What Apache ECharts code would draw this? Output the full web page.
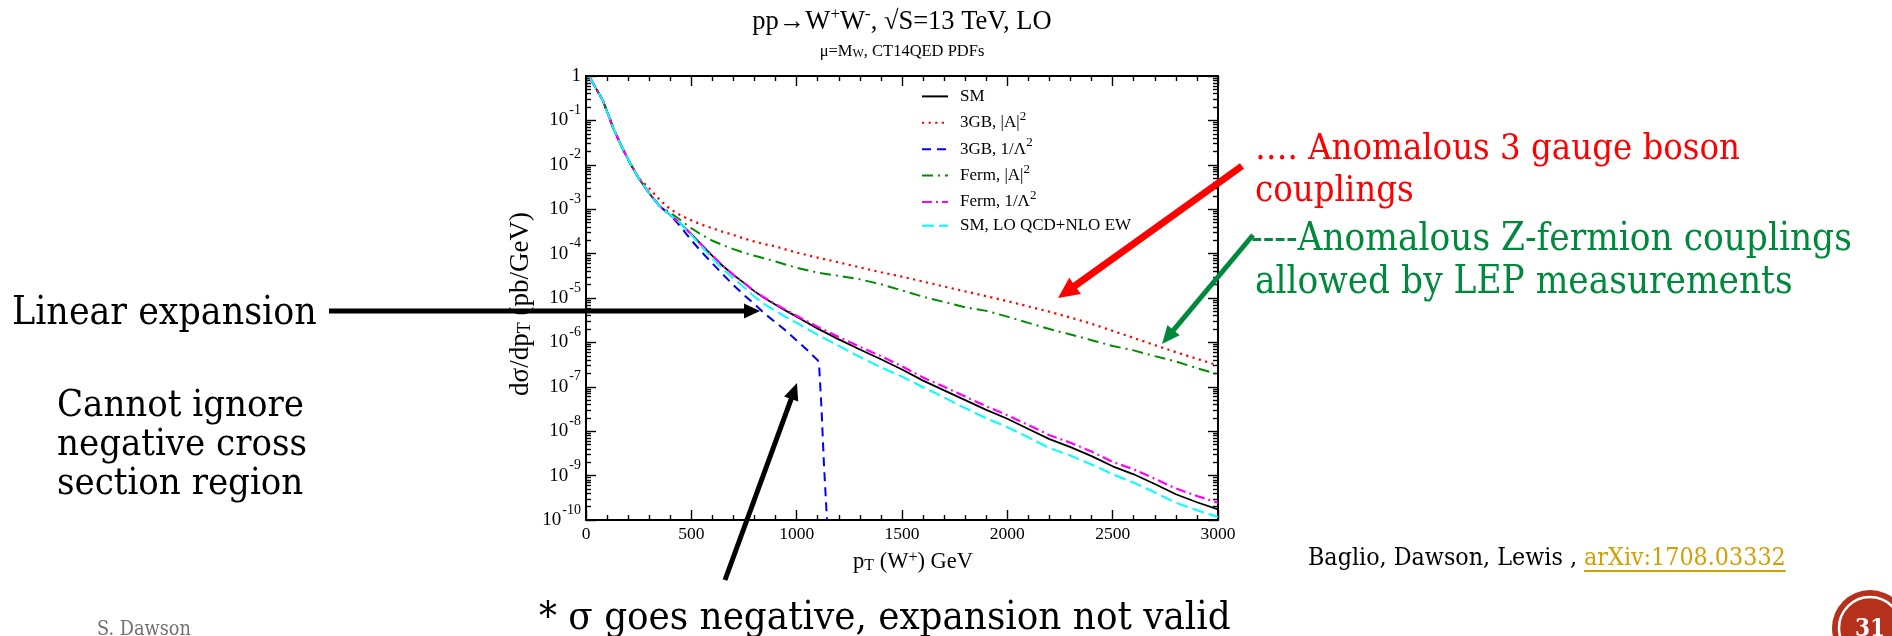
<!DOCTYPE html>
<html><head><meta charset="utf-8">
<script src="https://cdn.jsdelivr.net/npm/echarts@6/dist/echarts.min.js"></script>
<style>html,body{margin:0;padding:0;background:#fff;}#c{width:1892px;height:636px;}</style>
</head><body><div id="c"></div>
<script>
// ---------------- data ----------------
const pT = [20,50,80,100,130,170,210,250,300,350,400,450,500,550,600,650,700,750,800,850,900,950,1000,1100,1200,1300,1400,1500,1600,1700,1800,1900,2000,2100,2200,2300,2400,2500,2600,2700,2800,2900,3000];
const smVals = [0.891,0.501,0.282,0.158,0.0661,0.0251,0.0107,5.01e-3,2.29e-3,1.17e-3,7.41e-4,4.68e-4,2.75e-4,1.55e-4,8.91e-5,5.25e-5,3.31e-5,2.19e-5,1.41e-5,9.77e-6,7.08e-6,5.13e-6,3.80e-6,2.04e-6,1.17e-6,6.92e-7,4.17e-7,2.45e-7,1.38e-7,8.32e-8,5.01e-8,3.02e-8,1.91e-8,1.12e-8,6.61e-9,4.37e-9,2.75e-9,1.62e-9,1.07e-9,6.46e-10,3.80e-10,2.51e-10,1.74e-10];
const gb3SqVals = [0.891,0.501,0.282,0.158,0.0661,0.0251,0.0107,5.01e-3,2.95e-3,1.62e-3,1.00e-3,7.24e-4,5.62e-4,4.47e-4,3.72e-4,3.09e-4,2.63e-4,2.19e-4,1.86e-4,1.62e-4,1.45e-4,1.23e-4,1.05e-4,8.13e-5,6.31e-5,4.90e-5,3.80e-5,3.02e-5,2.34e-5,1.82e-5,1.41e-5,1.10e-5,8.51e-6,6.46e-6,4.90e-6,3.63e-6,2.63e-6,1.82e-6,1.26e-6,8.71e-7,6.03e-7,4.27e-7,3.02e-7];
const fermSqVals = [0.891,0.501,0.282,0.158,0.0661,0.0251,0.0107,5.01e-3,2.29e-3,1.17e-3,8.32e-4,5.62e-4,3.72e-4,2.63e-4,1.95e-4,1.55e-4,1.26e-4,1.05e-4,8.91e-5,7.76e-5,6.61e-5,5.62e-5,4.79e-5,3.72e-5,3.16e-5,2.63e-5,2.04e-5,1.48e-5,1.07e-5,8.13e-6,6.17e-6,5.13e-6,3.80e-6,2.75e-6,2.00e-6,1.51e-6,1.12e-6,8.32e-7,6.61e-7,4.90e-7,3.72e-7,2.63e-7,1.91e-7];
const fermLinVals = [0.891,0.501,0.282,0.158,0.0661,0.0251,0.0107,5.01e-3,2.29e-3,1.17e-3,7.41e-4,4.68e-4,2.75e-4,1.55e-4,8.91e-5,5.25e-5,3.31e-5,2.19e-5,1.41e-5,1.00e-5,7.24e-6,5.37e-6,3.98e-6,2.24e-6,1.32e-6,7.94e-7,4.90e-7,2.88e-7,1.62e-7,1.00e-7,6.03e-8,3.63e-8,2.29e-8,1.38e-8,8.13e-9,5.50e-9,3.47e-9,2.04e-9,1.38e-9,8.51e-10,5.13e-10,3.47e-10,2.45e-10];
const smEwVals = [0.891,0.501,0.282,0.158,0.0661,0.0251,0.0107,5.01e-3,2.29e-3,1.17e-3,7.41e-4,4.68e-4,2.63e-4,1.41e-4,7.94e-5,4.47e-5,2.75e-5,1.74e-5,1.07e-5,7.08e-6,5.13e-6,3.72e-6,2.75e-6,1.48e-6,8.32e-7,4.68e-7,2.75e-7,1.70e-7,9.77e-8,5.75e-8,3.31e-8,1.95e-8,1.23e-8,7.24e-9,4.17e-9,2.82e-9,1.78e-9,1.07e-9,6.92e-10,4.17e-10,2.45e-10,1.66e-10,1.17e-10];
const pTBlue = [20,50,80,100,130,170,210,250,300,350,400,450,500,550,600,650,700,750,800,850,900,950,1000,1050,1075,1100,1106,1118,1130,1144];
const gb3LinVals = [0.891,0.501,0.282,0.158,0.0661,0.0251,0.0107,5.01e-3,2.29e-3,1.17e-3,7.41e-4,3.98e-4,2.00e-4,1.07e-4,6.03e-5,3.39e-5,1.95e-5,1.17e-5,7.24e-6,4.37e-6,2.82e-6,1.82e-6,1.10e-6,6.76e-7,5.13e-7,3.98e-7,3.39e-7,3.16e-8,1.58e-9,1.0e-10];
const seriesNames = ['SM','3GB, |A|^2','3GB, 1/Λ^2','Ferm, |A|^2','Ferm, 1/Λ^2','SM, LO QCD+NLO EW'];
const yTickValues = [1e-10,1e-9,1e-8,1e-7,1e-6,1e-5,1e-4,1e-3,1e-2,1e-1,1];
const xTickStep = 500;

// ---------------- helpers ----------------
const yMinorValues = [];
for (let e = -10; e < 0; e++) for (let k = 2; k <= 9; k++) yMinorValues.push(k * Math.pow(10, e));
const pairs = (xs, ys) => xs.map((x, i) => [x, ys[i]]);
const SERIF = 'Liberation Serif';
const SLAB = '"DejaVu Serif Condensed", "DejaVu Serif", serif';
const mctx = document.createElement('canvas').getContext('2d');
function fit(text, target) { mctx.font = '100px ' + SLAB; return 100 * target / mctx.measureText(text).width; }
function textW(text, size) { mctx.font = size + 'px ' + SLAB; return mctx.measureText(text).width; }

function arrow(x1, y1, x2, y2, w, hl, hw, color) {
  const dx = x2 - x1, dy = y2 - y1, L = Math.hypot(dx, dy);
  const ux = dx / L, uy = dy / L, nx = -uy, ny = ux;
  const bx = x2 - ux * hl, by = y2 - uy * hl;
  return [
    { type: 'line', z: 100, shape: { x1: x1, y1: y1, x2: bx + ux * 2, y2: by + uy * 2 }, style: { stroke: color, lineWidth: w } },
    { type: 'polygon', z: 100, shape: { points: [[x2, y2], [bx + nx * hw / 2, by + ny * hw / 2], [bx - nx * hw / 2, by - ny * hw / 2]] }, style: { fill: color } }
  ];
}
function txt(x, y, text, size, color, extra) {
  return Object.assign({ type: 'text', z: 100, x: x, y: y, style: { text: text, font: size.toFixed(2) + 'px ' + SLAB, fill: color, align: 'left', textAlign: 'left', verticalAlign: 'middle', textVerticalAlign: 'middle' } }, extra || {});
}

// ---------------- axes ----------------
const tickLine = { color: '#000', width: 1.4 };
const frameLine = { show: true, lineStyle: { color: '#000', width: 2 } };
const xBase = { type: 'value', min: 0, max: 3000, interval: xTickStep, splitLine: { show: false },
  axisTick: { show: true, inside: true, length: 10, lineStyle: tickLine },
  minorTick: { show: true, splitNumber: 5, length: 5, lineStyle: tickLine }, axisLine: frameLine };
const yBase = { type: 'log', logBase: 10, min: 1e-10, max: 1, splitLine: { show: false }, minorTick: { show: false } };
const yLabel = v => { const e = Math.round(Math.log10(v)); return e === 0 ? '{b|1}' : '{b|10}{s|' + e + '}'; };

const legendRich = {
  b: { fontFamily: SERIF, fontSize: 17, color: '#000', lineHeight: 26 },
  s: { fontFamily: SERIF, fontSize: 13, color: '#000', lineHeight: 13, verticalAlign: 'top' }
};
const legendFmt = name => { const p = name.split('^'); return p.length > 1 ? '{b|' + p[0] + '}{s|' + p[1] + '}' : '{b|' + p[0] + '}'; };

const lineSeries = (name, xs, ys, color, type, width) => ({
  name: name, type: 'line', data: pairs(xs, ys), showSymbol: false, symbol: 'none', smooth: false,
  lineStyle: { color: color, width: width, type: type, cap: 'butt' }, itemStyle: { color: color }, emphasis: { disabled: true }
});

// ---------------- annotation text sizes ----------------
const sLin = fit('Linear expansion', 305);
const sCan = fit('negative cross', 250);
const sRed = fit('…. Anomalous 3 gauge boson', 485);
const sGrn = fit('----Anomalous Z-fermion couplings', 601);
const sSig = fit('* σ goes negative, expansion not valid', 692);
const sRef = fit('Baglio, Dawson, Lewis , arXiv:1708.03332', 478);
const sDaw = fit('S. Dawson', 94);
const refLeft = 'Baglio, Dawson, Lewis , ';
const linkX = 1308 + textW(refLeft, sRef);
const linkW = textW('arXiv:1708.03332', sRef);

const graphics = [].concat(
  [
    { type: 'text', z: 90, x: 902, y: 22, style: { text: '{b|pp→W}{s|+}{b|W}{s|-}{b|, √S=13 TeV, LO}', fill: '#000', align: 'center', textAlign: 'center', verticalAlign: 'middle', textVerticalAlign: 'middle',
      rich: { b: { fontFamily: SERIF, fontSize: 26.5, lineHeight: 32, fill: '#000' }, s: { fontFamily: SERIF, fontSize: 17, lineHeight: 15, verticalAlign: 'top', fill: '#000' } } } },
    { type: 'text', z: 90, x: 902, y: 52, style: { text: '{b|μ=M}{d|W}{b|, CT14QED PDFs}', fill: '#000', align: 'center', textAlign: 'center', verticalAlign: 'middle', textVerticalAlign: 'middle',
      rich: { b: { fontFamily: SERIF, fontSize: 16.5, lineHeight: 16, fill: '#000' }, d: { fontFamily: SERIF, fontSize: 12, lineHeight: 12, padding: [15, 0, 0, 0], verticalAlign: 'bottom', fill: '#000' } } } },
    { type: 'text', z: 90, x: 913, y: 562, style: { text: '{b|p}{d|T}{b| (W}{s|+}{b|) GeV}', fill: '#000', align: 'center', textAlign: 'center', verticalAlign: 'middle', textVerticalAlign: 'middle',
      rich: { b: { fontFamily: SERIF, fontSize: 22.5, lineHeight: 24, fill: '#000' }, s: { fontFamily: SERIF, fontSize: 16, lineHeight: 15, verticalAlign: 'top', fill: '#000' }, d: { fontFamily: SERIF, fontSize: 16, lineHeight: 15, padding: [16, 0, 0, 0], verticalAlign: 'bottom', fill: '#000' } } } },
    { type: 'text', z: 90, x: 521, y: 304, rotation: Math.PI / 2, style: { text: '{b|dσ/dp}{d|T}{b| (pb/GeV)}', fill: '#000', align: 'center', textAlign: 'center', verticalAlign: 'middle', textVerticalAlign: 'middle',
      rich: { b: { fontFamily: SERIF, fontSize: 27, lineHeight: 26, fill: '#000' }, d: { fontFamily: SERIF, fontSize: 18, lineHeight: 16, padding: [15, 0, 0, 0], verticalAlign: 'bottom', fill: '#000' } } } },
    txt(12, 314, 'Linear expansion', sLin, '#000'),
    txt(57, 406, 'Cannot ignore', sCan, '#000'),
    txt(57, 445, 'negative cross', sCan, '#000'),
    txt(57, 484, 'section region', sCan, '#000'),
    txt(1255, 150, '…. Anomalous 3 gauge boson', sRed, '#ff0000'),
    txt(1255, 192, 'couplings', sRed, '#ff0000'),
    txt(1251, 240, '----Anomalous Z-fermion couplings', sGrn, '#00893d'),
    txt(1255, 283, 'allowed by LEP measurements', sGrn, '#00893d'),
    txt(539, 619, '* σ goes negative, expansion not valid', sSig, '#000'),
    txt(1308, 559, refLeft, sRef, '#000'),
    txt(linkX, 559, 'arXiv:1708.03332', sRef, '#d39e00'),
    { type: 'line', z: 100, shape: { x1: linkX, y1: 571, x2: linkX + linkW, y2: 571 }, style: { stroke: '#d39e00', lineWidth: 2 } },
    { type: 'text', z: 100, x: 97, y: 620, style: { text: 'S. Dawson', font: sDaw.toFixed(2) + 'px ' + SLAB, fill: '#707070', align: 'left', textAlign: 'left', verticalAlign: 'top', textVerticalAlign: 'top' } },
    { type: 'circle', z: 100, shape: { cx: 1870, cy: 628, r: 38 }, style: { fill: '#b5311b' } },
    { type: 'circle', z: 101, shape: { cx: 1870, cy: 628, r: 31 }, style: { fill: 'none', stroke: '#ffffff', lineWidth: 2.5 } },
    { type: 'text', z: 102, x: 1870, y: 618, style: { text: '31', font: 'bold 24px ' + SLAB, fill: '#ffffff', align: 'center', textAlign: 'center', verticalAlign: 'top', textVerticalAlign: 'top' } }
  ],
  arrow(329, 311, 760, 311, 5, 16, 15, '#000'),
  arrow(725, 580, 797, 383, 5, 17, 15, '#000'),
  arrow(1242, 166, 1058, 298, 7, 21, 20, '#ff0000'),
  arrow(1253, 235, 1162, 344, 5, 18, 16, '#00893d')
);

const chart = echarts.init(document.getElementById('c'), null, { renderer: 'canvas' });
chart.setOption({
  animation: false,
  backgroundColor: '#ffffff',
  grid: { left: 586, top: 76, width: 632, height: 444, containLabel: false },
  xAxis: [
    Object.assign({}, xBase, { position: 'bottom', axisLabel: { show: true, margin: 5, fontFamily: SERIF, fontSize: 17.5, color: '#000', formatter: v => String(v) } }),
    Object.assign({}, xBase, { position: 'top', axisLabel: { show: false } })
  ],
  yAxis: [
    Object.assign({}, yBase, { position: 'left', axisLine: frameLine,
      axisTick: { show: true, inside: true, length: 10, lineStyle: tickLine, customValues: yTickValues },
      axisLabel: { show: true, margin: 5, customValues: yTickValues, formatter: yLabel,
        rich: { b: { fontFamily: SERIF, fontSize: 19, color: '#000', lineHeight: 34 },
                s: { fontFamily: SERIF, fontSize: 14, color: '#000', lineHeight: 13, padding: [0, 0, 0, 1], verticalAlign: 'top' } } } }),
    Object.assign({}, yBase, { position: 'left', axisLine: { show: false },
      axisTick: { show: true, inside: true, length: 5, lineStyle: tickLine, customValues: yMinorValues }, axisLabel: { show: false } }),
    Object.assign({}, yBase, { position: 'right', axisLine: frameLine,
      axisTick: { show: true, inside: true, length: 10, lineStyle: tickLine, customValues: yTickValues }, axisLabel: { show: false } }),
    Object.assign({}, yBase, { position: 'right', axisLine: { show: false },
      axisTick: { show: true, inside: true, length: 5, lineStyle: tickLine, customValues: yMinorValues }, axisLabel: { show: false } })
  ],
  legend: {
    data: seriesNames, orient: 'vertical', left: 921, top: 86, padding: 0, itemGap: 3,
    itemWidth: 26, itemHeight: 26, selectedMode: false, itemStyle: { opacity: 0 },
    formatter: legendFmt, textStyle: { padding: [0, 0, 0, 7], rich: legendRich }
  },
  series: [
    lineSeries(seriesNames[0], pT, smVals, '#000000', 'solid', 1.8),
    lineSeries(seriesNames[1], pT, gb3SqVals, '#ff0000', [2.2, 4.4], 2.2),
    lineSeries(seriesNames[2], pTBlue, gb3LinVals, '#0000ff', [9, 6], 2),
    lineSeries(seriesNames[3], pT, fermSqVals, '#008b00', [11, 5, 2, 5], 2),
    lineSeries(seriesNames[4], pT, fermLinVals, '#ff00ff', [10, 4, 2, 4], 2.2),
    lineSeries(seriesNames[5], pT, smEwVals, '#00ffff', [12, 5], 2)
  ],
  graphic: graphics
});
</script>
</body></html>
